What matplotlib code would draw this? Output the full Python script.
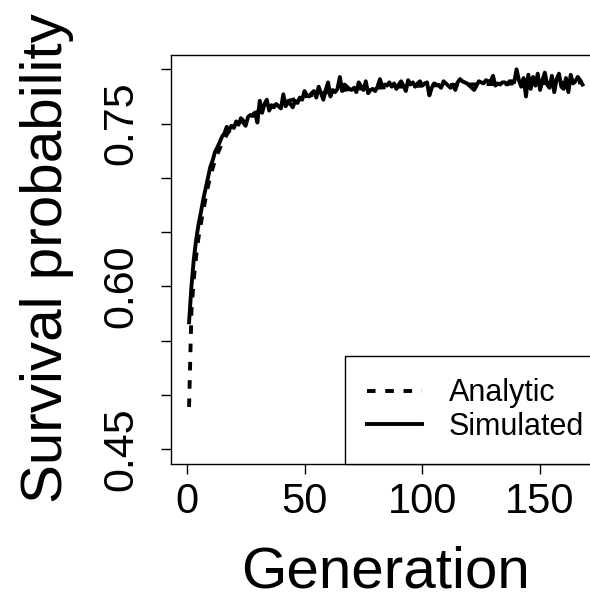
import matplotlib
matplotlib.use("Agg")
import matplotlib.pyplot as plt

# === Data ===
generation = list(range(1, 169))

simulated = [
    0.567, 0.600, 0.625, 0.643, 0.657, 0.668, 0.680, 0.690, 0.700, 0.710,
    0.716, 0.724, 0.728, 0.733, 0.738, 0.741, 0.747, 0.744, 0.748, 0.746,
    0.752, 0.749, 0.755, 0.751, 0.748, 0.756, 0.758, 0.757, 0.760, 0.751,
    0.771, 0.760, 0.768, 0.772, 0.762, 0.767, 0.765, 0.768, 0.766, 0.764,
    0.777, 0.766, 0.770, 0.768, 0.765, 0.771, 0.769, 0.774, 0.772, 0.780,
    0.776, 0.775, 0.778, 0.780, 0.774, 0.784, 0.778, 0.772, 0.781, 0.788,
    0.775, 0.781, 0.779, 0.782, 0.793, 0.780, 0.786, 0.784, 0.782, 0.781,
    0.783, 0.779, 0.788, 0.784, 0.781, 0.789, 0.778, 0.781, 0.782, 0.780,
    0.784, 0.791, 0.784, 0.786, 0.785, 0.788, 0.784, 0.787, 0.782, 0.786,
    0.789, 0.785, 0.780, 0.790, 0.786, 0.788, 0.784, 0.787, 0.789, 0.785,
    0.787, 0.788, 0.776, 0.783, 0.787, 0.786, 0.785, 0.783, 0.789, 0.787,
    0.785, 0.783, 0.786, 0.781, 0.788, 0.791, 0.789, 0.788, 0.787, 0.785,
    0.783, 0.781, 0.785, 0.789, 0.788, 0.787, 0.790, 0.789, 0.789, 0.794,
    0.785, 0.787, 0.786, 0.788, 0.788, 0.786, 0.789, 0.789, 0.788, 0.800,
    0.790, 0.784, 0.792, 0.775, 0.795, 0.782, 0.793, 0.785, 0.796, 0.781,
    0.790, 0.797, 0.786, 0.783, 0.794, 0.779, 0.791, 0.796, 0.784, 0.782,
    0.792, 0.779, 0.795, 0.787, 0.789, 0.793, 0.790, 0.786,
]

analytic_gen = [1, 2, 3, 4, 5, 6, 7, 8, 9, 10, 11, 12, 13, 14, 15, 16, 17, 18, 19, 20,
                25, 30, 35, 40, 45, 50, 60, 70, 80, 90, 100, 120, 140, 168]
analytic = [0.489, 0.577, 0.607, 0.628, 0.645, 0.658, 0.670, 0.681, 0.692, 0.701,
            0.709, 0.716, 0.722, 0.727, 0.732, 0.736, 0.740, 0.743, 0.746, 0.748,
            0.755, 0.761, 0.765, 0.769, 0.772, 0.775, 0.779, 0.782, 0.783, 0.784,
            0.785, 0.786, 0.787, 0.788]

x_ticks = [0, 50, 100, 150]
y_ticks = [0.45, 0.50, 0.55, 0.60, 0.65, 0.70, 0.75, 0.80]
y_tick_labels = ["0.45", "", "", "0.60", "", "", "0.75", ""]

plt.rcParams['font.family'] = ['Liberation Sans', 'DejaVu Sans']

W, H = 590, 592
fig = plt.figure(figsize=(W / 100, H / 100), dpi=100)
ax = fig.add_axes([170.7 / W, 1 - 464 / H, (599 - 170.7) / W, (464 - 55) / H])

# === Curves ===
ax.plot(analytic_gen, analytic, color='black', lw=2.8, dashes=(2.2, 2.5),
        label='Analytic')
ax.plot(generation, simulated, color='black', lw=2.8, label='Simulated')

ax.set_xlim(-6.8, 175)
ax.set_ylim(0.4365, 0.8132)

ax.set_xticks(x_ticks)
ax.set_xticklabels([str(t) for t in x_ticks], fontsize=30)
ax.set_yticks(y_ticks)
ax.set_yticklabels(y_tick_labels, fontsize=31, rotation=90, va='center')
ax.tick_params(axis='x', length=7, width=1, pad=6)
ax.tick_params(axis='y', length=7, width=1, pad=14)
for s in ax.spines.values():
    s.set_linewidth(1.0)

# === Labels placed like R's outer margin text ===
fig.text(385 / W, 1 - 587 / H, 'Generation', fontsize=42,
         ha='center', va='baseline')
fig.text(62 / W, 1 - 258 / H, 'Survival probability', fontsize=42,
         ha='center', va='baseline', rotation=90, rotation_mode='anchor')

# legend box runs off the right edge, as in the reference
leg = ax.legend(loc='lower right', bbox_to_anchor=(1.016, 0), borderaxespad=0,
                fontsize=22, handlelength=1.8, handletextpad=0.87,
                borderpad=0.72, labelspacing=0.12, fancybox=False,
                framealpha=1, edgecolor='black')
leg.get_frame().set_linewidth(1.0)

fig.savefig('out.png', dpi=100)
